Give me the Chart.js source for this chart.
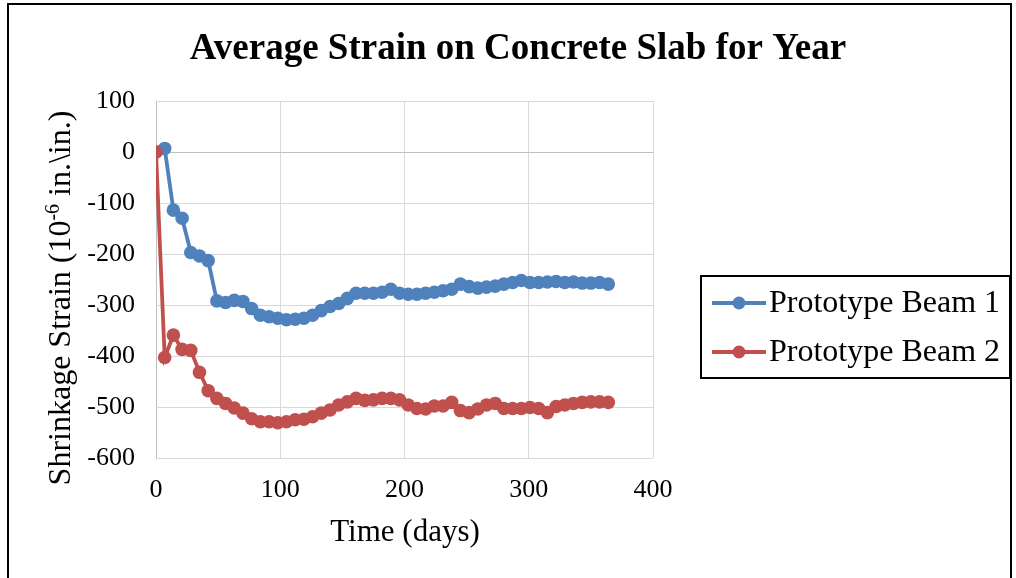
<!DOCTYPE html>
<html>
<head>
<meta charset="utf-8">
<script src="https://cdn.jsdelivr.net/npm/chart.js@4"></script>
<style>
  html, body { margin: 0; padding: 0; background: #fff; }
  #wrap { position: relative; width: 1016px; height: 578px; overflow: hidden; }
  #frame { position: absolute; left: 7px; top: 3px; width: 1005px; height: 640px; border: 2px solid #000; box-sizing: border-box; }
  canvas { position: absolute; left: 0; top: 0; }
</style>
</head>
<body>
<div id="wrap">
  <div id="frame"></div>
  <canvas id="chart" width="1016" height="578"></canvas>
</div>
<script>
  // Time in days (weekly readings over one year)
  const days = [0, 7, 14, 21, 28, 35, 42, 49, 56, 63, 70, 77, 84, 91, 98, 105, 112, 119, 126, 133,
    140, 147, 154, 161, 168, 175, 182, 189, 196, 203, 210, 217, 224, 231, 238, 245, 252, 259, 266,
    273, 280, 287, 294, 301, 308, 315, 322, 329, 336, 343, 350, 357, 364];

  // Shrinkage strain (10^-6 in./in.)
  const beam1 = [0, 7, -114, -130, -197, -204, -213, -292, -295, -291, -293, -307, -320, -323, -326,
    -329, -328, -326, -320, -311, -303, -297, -287, -277, -277, -277, -275, -269, -277, -279, -279,
    -277, -275, -272, -269, -259, -264, -267, -265, -263, -259, -256, -252, -256, -256, -255, -254,
    -256, -255, -257, -257, -256, -259];
  const beam2 = [0, -403, -359, -387, -389, -432, -468, -483, -493, -502, -512, -523, -529, -529, -531,
    -529, -525, -524, -519, -512, -506, -496, -490, -483, -487, -486, -483, -483, -486, -496, -503,
    -504, -498, -498, -491, -507, -511, -504, -496, -493, -503, -503, -503, -501, -503, -511, -499,
    -496, -493, -491, -490, -490, -491];

  const seriesNames = ["Prototype Beam 1", "Prototype Beam 2"];
  const seriesColors = ["#4F81BD", "#C0504D"];
  const xTicks = [0, 100, 200, 300, 400];
  const yTicks = [100, 0, -100, -200, -300, -400, -500, -600];
  const chartTitle = "Average Strain on Concrete Slab for Year";
  const xTitle = "Time (days)";

  const serif = "'Liberation Serif', 'Times New Roman', serif";

  function toPoints(vals) {
    return vals.map((v, i) => ({ x: days[i], y: v }));
  }

  // Title, axis titles (y one with a superscript) and the boxed legend.
  const extrasPlugin = {
    id: "extras",
    afterDraw(chart) {
      const ctx = chart.ctx;
      ctx.save();
      ctx.fillStyle = "#000";
      ctx.textAlign = "center";
      ctx.textBaseline = "middle";
      ctx.font = "bold 37px " + serif;
      ctx.fillText(chartTitle, 518, 49);
      ctx.font = "31px " + serif;
      ctx.fillText(xTitle, 405, 533);
      ctx.restore();

      // y axis title
      ctx.save();
      ctx.translate(62, 298);
      ctx.rotate(-Math.PI / 2);
      ctx.fillStyle = "#000";
      ctx.textBaseline = "middle";
      const big = "32px " + serif;
      const small = "20px " + serif;
      const p1 = "Shrinkage Strain (10", p2 = "-6", p3 = " in.\\in.)";
      ctx.font = big; const w1 = ctx.measureText(p1).width, w3 = ctx.measureText(p3).width;
      ctx.font = small; const w2 = ctx.measureText(p2).width;
      let x = -(w1 + w2 + w3) / 2;
      ctx.font = big; ctx.fillText(p1, x, 0); x += w1;
      ctx.font = small; ctx.fillText(p2, x, -8); x += w2;
      ctx.font = big; ctx.fillText(p3, x, 0);
      ctx.restore();

      // legend
      ctx.save();
      ctx.strokeStyle = "#000";
      ctx.lineWidth = 2;
      ctx.strokeRect(701, 276, 309, 102);
      ctx.font = "32px " + serif;
      ctx.textBaseline = "middle";
      const rows = [303, 352];
      chart.data.datasets.forEach(ds => {
        const y = rows[seriesNames.indexOf(ds.label)];
        ctx.strokeStyle = ds.borderColor;
        ctx.lineWidth = 3.8;
        ctx.beginPath(); ctx.moveTo(712, y); ctx.lineTo(766, y); ctx.stroke();
        ctx.fillStyle = ds.borderColor;
        ctx.beginPath(); ctx.arc(739, y, 6.5, 0, Math.PI * 2); ctx.fill();
        ctx.fillStyle = "#000";
        ctx.fillText(ds.label, 769, y + 1);
      });
      ctx.restore();
    }
  };

  const gridColor = c => (c.tick && c.tick.value === 0 ? "#bfbfbf" : "#d9d9d9");

  function makeSeries(i, order) {
    return {
      label: seriesNames[i],
      data: toPoints(i === 0 ? beam1 : beam2),
      borderColor: seriesColors[i],
      backgroundColor: seriesColors[i],
      pointBackgroundColor: seriesColors[i],
      borderWidth: 3.8,
      pointRadius: 6.8,
      pointBorderWidth: 0,
      order: order
    };
  }

  new Chart(document.getElementById("chart"), {
    type: "line",
    data: {
      // red series drawn on top, as in the original
      datasets: [makeSeries(0, 1), makeSeries(1, 0)]
    },
    options: {
      responsive: false,
      animation: false,
      layout: { padding: { left: 0, right: 363, top: 101, bottom: 0 } },
      plugins: {
        legend: { display: false },
        tooltip: { enabled: false },
        title: { display: false }
      },
      scales: {
        x: {
          type: "linear",
          min: 0,
          max: 400,
          afterBuildTicks: s => { s.ticks = xTicks.map(v => ({ value: v })); },
          afterFit: s => { s.height = 120; },
          grid: { color: gridColor, lineWidth: 1, drawTicks: false },
          border: { display: false },
          ticks: { color: "#000", font: { family: serif, size: 26 }, padding: 17, maxRotation: 0 }
        },
        y: {
          min: -600,
          max: 100,
          afterBuildTicks: s => { s.ticks = yTicks.map(v => ({ value: v })); },
          afterFit: s => { s.width = 156; },
          grid: { color: gridColor, lineWidth: 1, drawTicks: false },
          border: { display: false },
          ticks: { color: "#000", font: { family: serif, size: 26 }, padding: 21 }
        }
      }
    },
    plugins: [extrasPlugin]
  });
</script>
</body>
</html>
